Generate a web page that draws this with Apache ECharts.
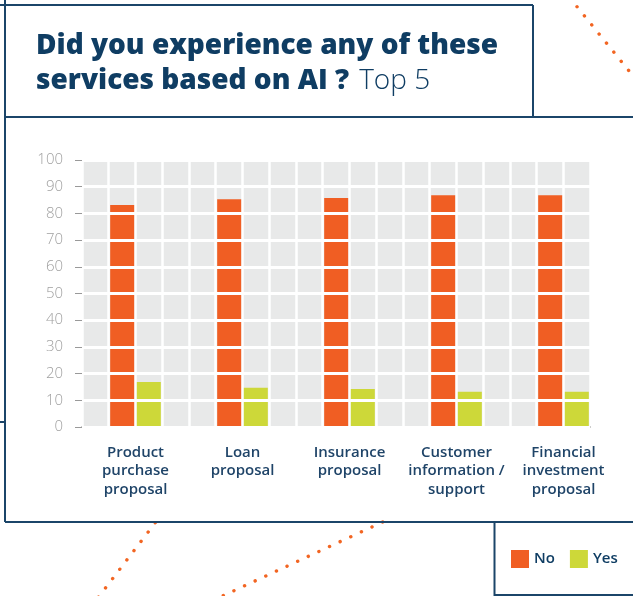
<!DOCTYPE html>
<html>
<head>
<meta charset="utf-8">
<script src="https://cdn.jsdelivr.net/npm/echarts@6/dist/echarts.min.js"></script>
<style>
  html, body { margin: 0; padding: 0; background: #fff; }
  #chart { width: 633px; height: 596px; }
</style>
</head>
<body>
<div id="chart"></div>
<script>
// data (percent)
const categories = [
  'Product\npurchase\nproposal',
  'Loan\nproposal',
  'Insurance\nproposal',
  'Customer\ninformation /\nsupport',
  'Financial\ninvestment\nproposal'
];
const noValues = [83.1, 85.3, 85.8, 86.8, 86.8];
const yesValues = [16.9, 14.7, 14.2, 13.2, 13.2];

const NAVY = '#0f3d63';
const FRAME = '#1b4569';
const ORANGE = '#f05e23';
const LIME = '#cdd839';
const DOT = '#f26522';

const chart = echarts.init(document.getElementById('chart'));

function frameLine(x1, y1, x2, y2) {
  return { type: 'line', silent: true, z: 10,
    shape: { x1: x1, y1: y1, x2: x2, y2: y2 },
    style: { stroke: FRAME, lineWidth: 2 } };
}
function dotLine(x1, y1, x2, y2) {
  return { type: 'line', silent: true, z: 9,
    shape: { x1: x1, y1: y1, x2: x2, y2: y2 },
    style: { stroke: DOT, lineWidth: 3.4, lineCap: 'round', lineDash: [0.1, 11.6] } };
}

const option = {
  backgroundColor: '#fff',
  animation: false,
  title: {
    left: 36,
    top: 29,
    padding: 0,
    text: '{b|Did you experience any of these}\n{b|services based on AI ?}  {l|Top 5}',
    textStyle: {
      rich: {
        b: { fontFamily: 'Open Sans', fontWeight: 800, fontSize: 28, color: NAVY, lineHeight: 35 },
        l: { fontFamily: 'Open Sans', fontWeight: 300, fontSize: 28, color: NAVY, lineHeight: 35 }
      }
    }
  },
  legend: {
    data: ['No', 'Yes'],
    left: 511,
    top: 550,
    padding: 0,
    icon: 'rect',
    itemWidth: 18,
    itemHeight: 18,
    itemGap: 15,
    textStyle: { fontFamily: 'Open Sans', fontWeight: 600, fontSize: 15, color: NAVY }
  },
  grid: [
    // bars
    { left: 82, right: 16, top: 160, bottom: 169 },
    // gray cell background
    { left: 82, right: 43, top: 160, bottom: 169, show: true,
      backgroundColor: '#e8e9e9', borderWidth: 0 }
  ],
  xAxis: [
    {
      gridIndex: 0,
      type: 'category',
      data: categories,
      axisLine: { show: false },
      axisTick: { show: false },
      axisLabel: {
        margin: 16,
        fontFamily: 'Open Sans', fontWeight: 600, fontSize: 15, lineHeight: 18.5,
        color: '#1f4468', interval: 0
      }
    },
    {
      gridIndex: 1,
      type: 'value',
      min: 0, max: 19, interval: 1,
      axisLabel: { show: false },
      axisTick: { show: false },
      axisLine: { show: true, lineStyle: { color: '#bdbdbd', width: 2 } },
      splitLine: { show: true, lineStyle: { color: '#fff', width: 2.5 } }
    }
  ],
  yAxis: [
    { gridIndex: 0, type: 'value', min: 0, max: 100, show: false },
    {
      gridIndex: 1,
      type: 'value',
      min: 0, max: 100, interval: 10,
      offset: 3,
      z: 3,
      axisLine: { show: false },
      axisTick: { show: true, length: 7, lineStyle: { color: '#999', width: 1 } },
      axisLabel: { margin: 16, fontFamily: 'Open Sans', fontWeight: 300, fontSize: 15, color: '#a0a0a0' },
      splitLine: { show: true, lineStyle: { color: '#fff', width: 3 } }
    }
  ],
  series: [
    { name: 'No', type: 'bar', xAxisIndex: 0, yAxisIndex: 0, data: noValues,
      barWidth: 24, barGap: '11%', itemStyle: { color: ORANGE } },
    { name: 'Yes', type: 'bar', xAxisIndex: 0, yAxisIndex: 0, data: yesValues,
      barWidth: 24, barGap: '11%', itemStyle: { color: LIME } }
  ],
  graphic: [
    frameLine(5, 0, 5, 522),
    frameLine(0, 5, 533, 5),
    frameLine(533, 5, 533, 117),
    frameLine(5, 117, 633, 117),
    frameLine(5, 522, 633, 522),
    frameLine(494.5, 522, 494.5, 596),
    frameLine(494.5, 595, 633, 595),
    frameLine(0, 422, 5, 422),
    dotLine(111, -5, 104, 4),
    dotLine(577, 6.7, 640, 84.5),
    dotLine(155.3, 522.7, 95, 601.7),
    dotLine(382.7, 522, 216, 599)
  ]
};

chart.setOption(option);
</script>
</body>
</html>
